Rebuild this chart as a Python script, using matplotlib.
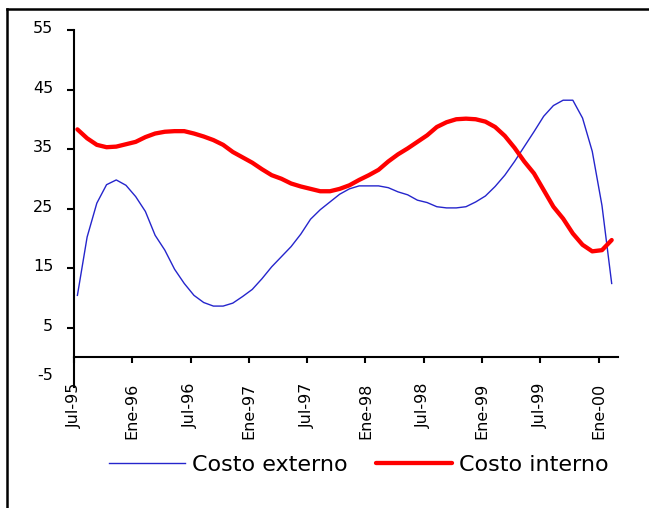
import numpy as np
import matplotlib
matplotlib.use("Agg")
import matplotlib.pyplot as plt
from matplotlib.lines import Line2D
from matplotlib.transforms import ScaledTranslation

# Monthly data, Jul-95 .. Feb-00
costo_externo = [10.4, 20.2, 25.9, 29.0, 29.8, 28.9, 27.0, 24.5, 20.5, 18.0,
                 14.8, 12.4, 10.4, 9.2, 8.6, 8.6, 9.1, 10.2, 11.4, 13.2,
                 15.2, 16.9, 18.6, 20.7, 23.2, 24.8, 26.1, 27.4, 28.3, 28.8,
                 28.8, 28.8, 28.5, 27.8, 27.3, 26.4, 26.0, 25.3, 25.1, 25.1,
                 25.3, 26.1, 27.1, 28.7, 30.6, 32.9, 35.4, 37.9, 40.5, 42.3,
                 43.2, 43.2, 40.2, 34.6, 25.5, 12.4]
costo_interno = [38.3, 36.8, 35.7, 35.3, 35.4, 35.8, 36.2, 37.0, 37.6, 37.9,
                 38.0, 38.0, 37.6, 37.1, 36.5, 35.7, 34.5, 33.6, 32.7, 31.6,
                 30.6, 30.0, 29.2, 28.7, 28.3, 27.9, 27.9, 28.3, 28.9, 29.8,
                 30.6, 31.5, 32.9, 34.1, 35.1, 36.2, 37.3, 38.7, 39.5, 40.0,
                 40.1, 40.0, 39.6, 38.7, 37.2, 35.2, 32.9, 30.9, 28.1, 25.3,
                 23.3, 20.8, 18.9, 17.8, 18.0, 19.7]
tick_labels = ["Jul-95", "Ene-96", "Jul-96", "Ene-97", "Jul-97",
               "Ene-98", "Jul-98", "Ene-99", "Jul-99", "Ene-00"]
y_ticks = [-5, 5, 15, 25, 35, 45, 55]

n = len(costo_externo)
x = np.arange(n) + 0.35

fig = plt.figure(figsize=(6.49, 5.08), dpi=100)
W, H = 649, 508
left, right, top, bottom = 74, 618, 30, 387
ax = fig.add_axes([left / W, 1 - bottom / H, (right - left) / W, (bottom - top) / H])

ln1, = ax.plot(x, costo_externo, color="#2525cc", lw=1.0, label="Costo externo")
ln2, = ax.plot(x, costo_interno, color="#ff0000", lw=3.1, label="Costo interno",
               solid_joinstyle="round", solid_capstyle="round")

ax.set_xlim(0, n)
ax.set_ylim(-5, 55)

for s in ["top", "right"]:
    ax.spines[s].set_visible(False)
ax.spines["left"].set_linewidth(1.5)
ax.spines["bottom"].set_linewidth(1.5)
ax.spines["bottom"].set_position(("data", 0))

ax.set_yticks(y_ticks)
ax.set_yticklabels([str(v) for v in y_ticks], fontsize=11.5)
ax.tick_params(axis="y", direction="out", length=5, width=1.5, pad=10)
ax.yaxis.get_major_ticks()[0].tick1line.set_visible(False)
for i, lab in enumerate(ax.get_yticklabels()):
    dy = 9 if i == 0 else 2
    lab.set_transform(lab.get_transform() + ScaledTranslation(0, dy / 72, fig.dpi_scale_trans))

xt = np.arange(0, n, 6)
ax.set_xticks(xt)
ax.set_xticklabels([])
ax.tick_params(axis="x", direction="out", length=4.5, width=1.5)

sec = ax.secondary_xaxis(0)
sec.spines["bottom"].set_visible(False)
sec.set_xticks(xt)
sec.set_xticklabels(tick_labels, rotation=90, fontsize=11.5, va="top", ha="center")
sec.tick_params(axis="x", length=0, pad=-3)

fig.legend(handles=[ln1, ln2], loc="center", bbox_to_anchor=(0.553, 1 - 465 / H),
           ncol=2, frameon=False, fontsize=16, handlelength=3.4,
           handletextpad=0.32, columnspacing=1.27)

# outer frame (top and left)
fig.add_artist(Line2D([7 / W, 1.0], [1 - 9 / H, 1 - 9 / H], transform=fig.transFigure,
                      color="black", lw=1.8))
fig.add_artist(Line2D([7 / W, 7 / W], [0, 1 - 9 / H], transform=fig.transFigure,
                      color="black", lw=1.8))

fig.savefig("out.png", dpi=100)
